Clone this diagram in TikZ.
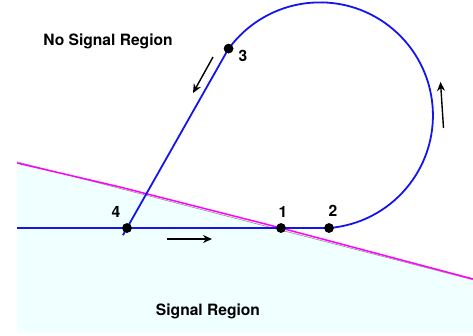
\documentclass[tikz,border=0pt]{standalone}
\usepackage{fontspec}
\setmainfont{TeX Gyre Heros}
\usetikzlibrary{arrows.meta,calc}
\definecolor{sigfill}{RGB}{240,255,255}
\definecolor{bndcol}{RGB}{255,0,255}
\definecolor{pathcol}{RGB}{20,20,240}
\begin{document}
\begin{tikzpicture}[x=1pt,y={(0pt,-1pt)},
  lbl/.style={font=\fontsize{15.6}{18}\selectfont\bfseries, inner sep=0pt, anchor=base},
  dot/.style={circle, fill=black, inner sep=0pt, minimum size=9.5pt},
  pathline/.style={draw=pathcol, line width=1.8pt},
  flow/.style={draw=black, line width=1.4pt, -{Stealth[length=9pt,width=8pt]}}]
\useasboundingbox (0,0) rectangle (473,335);
% signal region shading
\fill[sigfill] (17,162) -- (473,280) -- (473,333) -- (17,333) -- cycle;
\draw[gray!80, line width=0.7pt] (17,161.8) -- (473,279.8);
\draw[bndcol, line width=1.5pt] (17,163) -- (120,187) -- (277,227) -- (473,279);
% points
\coordinate (L) at (17,228);
\node[dot] (p4) at (127,228) {};
\node[dot] (p1) at (281,228) {};
\node[dot] (p2) at (329,228) {};
\coordinate (C) at (320,115);
\node[dot] (p3) at ($(C)+(-144:113)$) {};
\coordinate (E) at ($(p4.center)!-0.04!(p3.center)$);
% path
\draw[pathline] (L) -- (p2.center) arc[start angle=85.4, end angle=-144, radius=113];
\draw[pathline] (p3.center) -- (p4.center) -- (E);
\node[dot] at (p4.center) {};
\node[dot] at (p1.center) {};
\node[dot] at (p2.center) {};
\node[dot] at (p3.center) {};
% flow arrows
\coordinate (a1s) at (213,57); \coordinate (a1e) at (193,93);
\coordinate (a2s) at (167,239); \coordinate (a2e) at (212,239);
\coordinate (a3s) at (443.5,128); \coordinate (a3e) at (440.5,82);
\draw[flow] (a1s) -- (a1e);
\draw[flow] (a2s) -- (a2e);
\draw[flow] (a3s) -- (a3e);
% labels
\node[lbl] (nosig) at (108,45) {No Signal Region};
\node[lbl] (sig) at (208,315.7) {Signal Region};
\node[lbl] (l4) at (116,217.5) {4};
\node[lbl] (l1) at (283,217.3) {1};
\node[lbl] (l2) at (333,216.7) {2};
\node[lbl] (l3) at (243,61.7) {3};
\end{tikzpicture}
\end{document}
